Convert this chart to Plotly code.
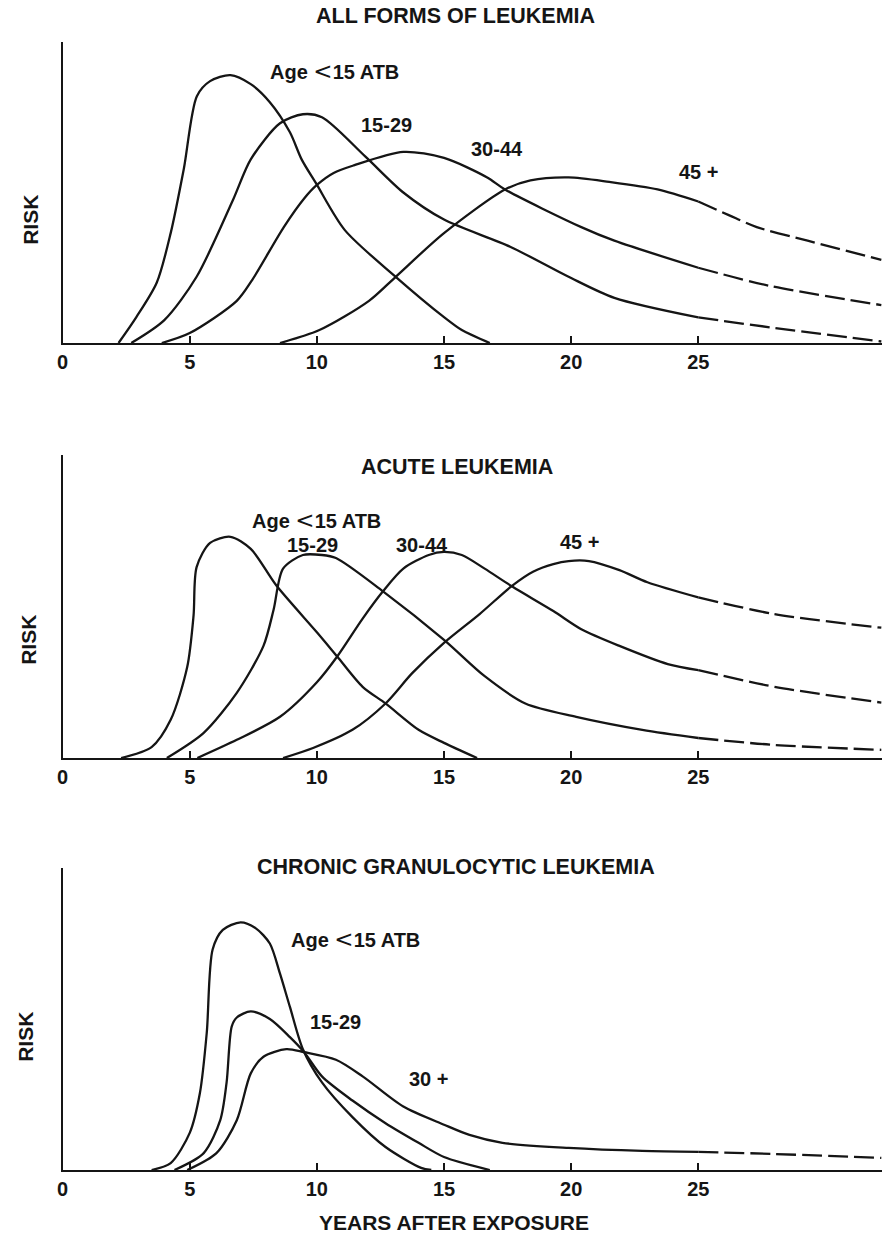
import plotly.graph_objects as go

# ---------------- DATA ----------------
# Years after exposure (x) and relative risk (y, arbitrary 0-100 scale)

# Panel 1: ALL FORMS OF LEUKEMIA
all_lt15_x = [2.2, 2.9, 3.7, 4.25, 4.77, 5.28, 5.8, 6.6, 7.4, 8.15, 8.94, 9.4, 9.97, 11.1, 13.1, 15.0, 15.7, 16.8]
all_lt15_y = [0, 8.6, 20, 36.5, 58, 82, 87, 89, 86, 80, 70, 61, 53, 37.5, 22, 8.6, 4.3, 0]
all_1529_x = [2.7, 4.0, 5.27, 6.7, 7.4, 8.55, 9.45, 10.2, 11.9, 13.4, 15.0, 17.6, 19.9, 21.7, 25.0, 28.0, 32.2]
all_1529_y = [0, 7.6, 22, 47.5, 61, 73, 76, 75, 62, 50, 41, 32, 22, 15, 8.5, 5, 0.5]
all_3044_x = [3.9, 5.0, 6.85, 7.46, 8.7, 9.5, 10.0, 10.66, 11.45, 13.4, 15.0, 16.7, 17.4, 20.4, 21.7, 25.0, 27.8, 32.2]
all_3044_y = [0, 3.3, 14, 21, 38.5, 48, 52.5, 56.5, 59, 63.5, 61.5, 55, 51, 38.5, 34, 25, 19, 12.6]
all_45_x = [8.55, 10.1, 12.05, 13.1, 15.0, 17.4, 18.4, 19.9, 21.5, 23.4, 25.0, 26.2, 27.3, 29.3, 32.2]
all_45_y = [0, 4.3, 14, 22, 36.5, 51, 54, 55, 53.5, 51, 47, 42.5, 38.5, 34, 27.6]

# Panel 2: ACUTE LEUKEMIA
acu_lt15_x = [2.3, 3.5, 4.25, 4.9, 5.15, 5.27, 5.8, 6.6, 7.4, 8.4, 10.0, 10.8, 11.8, 12.7, 14.0, 15.0, 16.3]
acu_lt15_y = [0, 3.6, 12.6, 30, 47, 63, 71, 73, 69, 57, 41.5, 33.5, 23.5, 18, 9.3, 5, 0]
acu_1529_x = [4.1, 5.55, 6.85, 7.9, 8.3, 8.67, 9.45, 10.2, 10.75, 12.6, 15.0, 16.6, 18.2, 20.2, 22.8, 25.0, 28.0, 32.2]
acu_1529_y = [0, 8.3, 21.5, 37, 49, 62.5, 67, 67, 66, 55, 39, 27, 18, 13.6, 9.3, 6.6, 4.3, 2.7]
acu_3044_x = [5.3, 6.85, 8.55, 10.0, 10.8, 11.8, 12.6, 13.4, 14.4, 15.0, 15.7, 16.6, 17.7, 19.3, 20.4, 21.9, 23.8, 25.0, 28.0, 32.2]
acu_3044_y = [0, 6, 13.6, 25, 33.5, 46, 55, 62.5, 67, 68, 67, 62.5, 56.5, 48.5, 42.5, 37, 31, 29, 23.5, 18.3]
acu_45_x = [8.67, 9.85, 11.4, 12.7, 13.75, 15.0, 16.4, 17.7, 18.5, 19.3, 19.9, 20.7, 21.9, 23.0, 25.0, 28.0, 32.2]
acu_45_y = [0, 3.3, 9.3, 18, 28, 38, 47.5, 57, 61.5, 64, 65, 65, 62, 58, 53, 47.5, 43]

# Panel 3: CHRONIC GRANULOCYTIC LEUKEMIA
cgl_lt15_x = [3.5, 4.25, 5.0, 5.4, 5.67, 5.9, 6.3, 7.0, 7.6, 8.15, 8.55, 8.94, 9.45, 10.2, 11.4, 12.7, 14.1, 14.5]
cgl_lt15_y = [0, 2.3, 12.3, 25.5, 45.5, 73, 79.5, 82, 80, 75, 65, 54, 40, 29, 17.5, 7.6, 0.7, 0]
cgl_1529_x = [4.4, 5.55, 6.2, 6.45, 6.65, 6.85, 7.4, 8.15, 8.94, 9.5, 10.2, 11.4, 12.7, 14.0, 15.0, 16.8]
cgl_1529_y = [0, 5.6, 16.5, 29, 47.5, 50.5, 52.5, 50, 44, 39, 31, 23, 15.5, 9, 4.3, 0]
cgl_30_x = [4.9, 6.05, 6.85, 7.4, 7.9, 8.8, 9.5, 10.75, 11.8, 13.4, 15.0, 16.0, 17.3, 19.9, 22.8, 25.0, 28.0, 32.2]
cgl_30_y = [0, 5.6, 16.5, 32, 37.5, 40, 39, 36.5, 31, 21, 15, 11.6, 9, 7.3, 6.3, 6, 5.3, 4]

panel_titles = ["ALL FORMS OF LEUKEMIA", "ACUTE LEUKEMIA", "CHRONIC GRANULOCYTIC LEUKEMIA"]
tick_vals = [0, 5, 10, 15, 20, 25]
tick_text = ["0", "5", "10", "15", "20", "25"]
dashed_after_year = 25.0  # curves are drawn dashed beyond this year

# --------------------------- FIGURE ---------------------------
W, H = 882, 1237
FONT = "Liberation Sans, Arial, Helvetica, sans-serif"
INK = "#151515"

fig = go.Figure()

series = [
    (1, all_lt15_x, all_lt15_y), (1, all_1529_x, all_1529_y),
    (1, all_3044_x, all_3044_y), (1, all_45_x, all_45_y),
    (2, acu_lt15_x, acu_lt15_y), (2, acu_1529_x, acu_1529_y),
    (2, acu_3044_x, acu_3044_y), (2, acu_45_x, acu_45_y),
    (3, cgl_lt15_x, cgl_lt15_y), (3, cgl_1529_x, cgl_1529_y),
    (3, cgl_30_x, cgl_30_y),
]

for p, xs, ys in series:
    ax = "" if p == 1 else str(p)
    solid = [(x, y) for x, y in zip(xs, ys) if x <= dashed_after_year]
    dashed = [(x, y) for x, y in zip(xs, ys) if x >= dashed_after_year]
    fig.add_trace(go.Scatter(
        x=[a for a, _ in solid], y=[b for _, b in solid], mode="lines",
        line=dict(color=INK, width=2.3, shape="spline", smoothing=0.8),
        xaxis="x" + ax, yaxis="y" + ax, showlegend=False, hoverinfo="skip"))
    if len(dashed) > 1:
        fig.add_trace(go.Scatter(
            x=[a for a, _ in dashed], y=[b for _, b in dashed], mode="lines",
            line=dict(color=INK, width=2.3, shape="spline", smoothing=0.8, dash="20px,6px"),
            xaxis="x" + ax, yaxis="y" + ax, showlegend=False, hoverinfo="skip"))

# pixel geometry of the three panels (baseline y, top y)
panels_px = [(343, 42), (758, 455), (1170, 868)]
x_left_px = 57
x_range = [0, (W - x_left_px) / 25.6]

layout = dict(
    width=W, height=H,
    margin=dict(l=0, r=0, t=0, b=0),
    paper_bgcolor="white", plot_bgcolor="white",
    font=dict(family=FONT, color=INK, size=20),
    showlegend=False,
)
for i, (base, top) in enumerate(panels_px):
    k = "" if i == 0 else str(i + 1)
    layout["xaxis" + k] = dict(
        domain=[x_left_px / W, 1], range=x_range, anchor="y" + k,
        showline=True, linecolor=INK, linewidth=2.2,
        tickmode="array", tickvals=tick_vals, ticktext=tick_text,
        ticks="inside", ticklen=7, tickwidth=1.6, tickcolor=INK,
        tickfont=dict(size=20, family=FONT, color=INK, weight="bold"),
        showgrid=False, zeroline=False, fixedrange=True,
    )
    layout["yaxis" + k] = dict(
        domain=[(H - base) / H, (H - top) / H], range=[0, 100], anchor="x" + k,
        showline=True, linecolor=INK, linewidth=2.2,
        showticklabels=False, ticks="", showgrid=False, zeroline=False,
        fixedrange=True,
    )

fig.update_layout(**layout)

def ann(text, x, y, size=20, angle=0):
    fig.add_annotation(text=text, x=x / W, y=1 - y / H, xref="paper", yref="paper",
                       showarrow=False, xanchor="center", yanchor="middle",
                       font=dict(size=size, family=FONT, color=INK, weight="bold"),
                       textangle=angle)

LT = ("Age <span style='font-family:DejaVu Sans;font-size:23px;font-weight:normal'>"
      "&lt;</span>15 ATB")

# panel titles
ann(panel_titles[0], 453, 16, 21.5)
ann(panel_titles[1], 454, 467, 21.5)
ann(panel_titles[2], 453, 867, 21.5)

# RISK labels
ann("RISK", 25, 220, 21, -90)
ann("RISK", 22, 640, 21, -90)
ann("RISK", 19, 1037, 21, -90)

# curve labels
ann(LT, 331, 71)
ann("15-29", 383, 125)
ann("30-44", 494, 149)
ann("45 +", 697, 172)

ann(LT, 313, 520)
ann("15-29", 309, 545)
ann("30-44", 419, 545)
ann("45 +", 577, 542)

ann(LT, 352, 939)
ann("15-29", 332, 1022)
ann("30 +", 425, 1079)

# x-axis title
ann("YEARS AFTER EXPOSURE", 451, 1222, 21)

fig.write_html("out.html")
